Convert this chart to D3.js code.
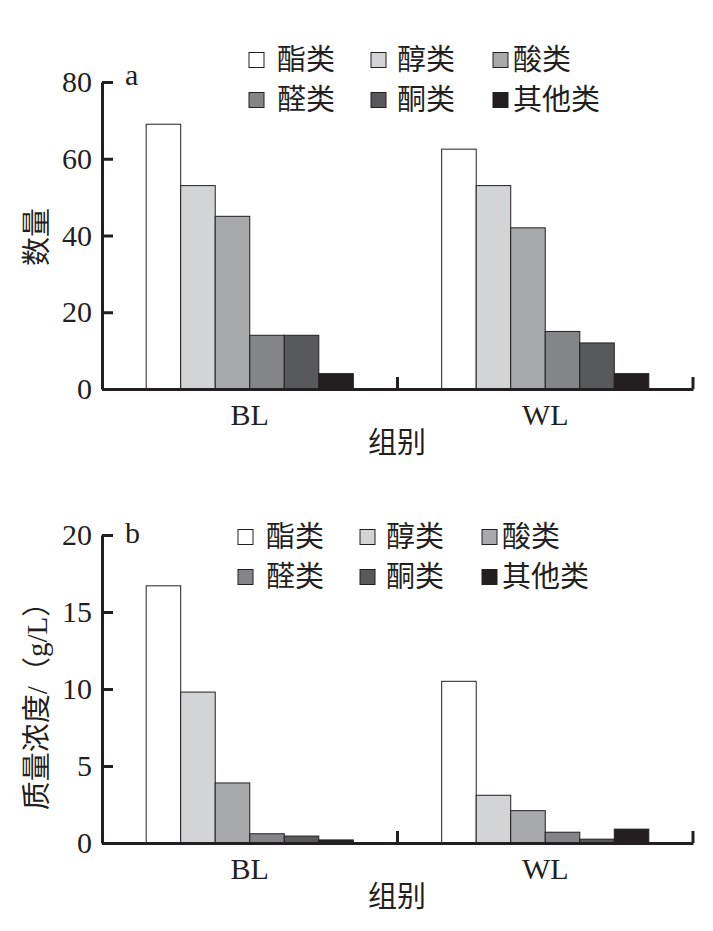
<!DOCTYPE html>
<html>
<head>
<meta charset="utf-8">
<script src="https://cdn.jsdelivr.net/npm/d3@7"></script>
<style>
  body { margin: 0; background: #fff; }
  svg text { font-family: "Liberation Serif", "Noto Sans CJK SC", serif; fill: #231f20; }
</style>
</head>
<body>
<svg id="chart"></svg>
<script>
// data
const groups = ["BL", "WL"];
const classes = ["酯类", "醇类", "酸类", "醛类", "酮类", "其他类"];
const colors = ["#ffffff", "#d3d4d6", "#a8a9ab", "#848587", "#58595b", "#231f20"];

const countBL = [69, 53, 45, 14, 14, 4];
const countWL = [62.5, 53, 42, 15, 12, 4];
const countTicks = [0, 20, 40, 60, 80];

const concBL = [16.7, 9.8, 3.9, 0.6, 0.45, 0.2];
const concWL = [10.5, 3.1, 2.1, 0.7, 0.25, 0.9];
const concTicks = [0, 5, 10, 15, 20];

const svg = d3.select("#chart").attr("width", 713).attr("height", 931);
const ink = "#231f20";

function panel(cfg) {
    let self = {};
    self.x = d3.scaleBand().domain(groups).range([102, 693]);
    self.inner = d3.scaleBand().domain(classes)
        .range([0, self.x.bandwidth()])
        .paddingOuter(1.28);
    self.y = d3.scaleLinear().domain([0, cfg.max]).range([cfg.bottom, cfg.top]);

    let rows = [];
    groups.forEach((g, gi) => {
        classes.forEach((c, ci) => {
            rows.push({ g: g, c: c, v: cfg.values[gi][ci], fill: colors[ci] });
        });
    });

    let g = svg.append("g");

    g.selectAll("rect.bar")
        .data(rows)
        .join("rect")
        .attr("class", "bar")
        .attr("x", d => self.x(d.g) + self.inner(d.c))
        .attr("y", d => self.y(d.v))
        .attr("width", self.inner.bandwidth())
        .attr("height", d => self.y(0) - self.y(d.v))
        .attr("fill", d => d.fill)
        .attr("stroke", ink)
        .attr("stroke-width", 1);

    // y axis, ticks inward
    let yaxis = d3.axisLeft(self.y)
        .tickValues(cfg.ticks)
        .tickSizeInner(-11)
        .tickSizeOuter(0)
        .tickPadding(10);
    let yg = g.append("g").attr("transform", "translate(102,0)").call(yaxis);
    yg.selectAll("text").attr("font-size", 30).attr("fill", ink)
        .style("font-family", "'Liberation Serif', serif");
    yg.selectAll("line, path").attr("stroke", ink).attr("stroke-width", 3);

    // x axis
    let xaxis = d3.axisBottom(self.x).tickSize(0).tickPadding(15);
    let xg = g.append("g").attr("transform", `translate(0,${cfg.bottom})`).call(xaxis);
    xg.selectAll("text").attr("font-size", 30).attr("fill", ink)
        .style("font-family", "'Liberation Serif', serif");
    xg.select("path").attr("stroke", ink).attr("stroke-width", 3);

    // boundary ticks between groups, pointing up
    g.selectAll("line.bound")
        .data(groups)
        .join("line")
        .attr("class", "bound")
        .attr("x1", d => self.x(d) + self.x.bandwidth())
        .attr("x2", d => self.x(d) + self.x.bandwidth())
        .attr("y1", cfg.bottom)
        .attr("y2", cfg.bottom - 12)
        .attr("stroke", ink)
        .attr("stroke-width", 3);

    // panel letter
    g.append("text")
        .text(cfg.letter)
        .attr("x", 125)
        .attr("y", cfg.top + cfg.letterDy)
        .attr("font-size", 30);

    // x title
    g.append("text")
        .text("组别")
        .attr("x", 397)
        .attr("y", cfg.bottom + 64)
        .attr("text-anchor", "middle")
        .attr("font-size", 29)
        .style("font-family", "'Noto Sans CJK SC', sans-serif");

    // y title
    g.append("text")
        .text(cfg.ytitle)
        .attr("transform", `translate(47,${cfg.ymid}) rotate(-90)`)
        .attr("text-anchor", "middle")
        .attr("font-size", 29);

    // legend
    let colX = [0, 122, 244];
    let textGap = [28, 26, 20];
    let leg = g.append("g").attr("transform", `translate(${cfg.legX},${cfg.legY})`);
    let items = leg.selectAll("g")
        .data(classes)
        .join("g")
        .attr("transform", (d, i) => `translate(${colX[i % 3]},${Math.floor(i / 3) * cfg.legRow})`);
    items.append("rect")
        .attr("x", 0).attr("y", -7.5)
        .attr("width", 15).attr("height", 15)
        .attr("fill", (d, i) => colors[i])
        .attr("stroke", ink)
        .attr("stroke-width", 1);
    items.append("text")
        .text(d => d)
        .attr("x", (d, i) => textGap[i % 3])
        .attr("dy", "0.36em")
        .attr("font-size", 29)
        .style("font-family", "'Noto Sans CJK SC', sans-serif");

    return self;
}

panel({
    values: [countBL, countWL], max: 80, ticks: countTicks,
    top: 82, bottom: 389, letter: "a", letterDy: 3,
    ytitle: "数量", ymid: 237,
    legX: 249, legY: 60, legRow: 40
});

panel({
    values: [concBL, concWL], max: 20, ticks: concTicks,
    top: 535, bottom: 843, letter: "b", letterDy: 8,
    ytitle: "质量浓度/（g/L）", ymid: 699,
    legX: 238, legY: 537, legRow: 40
});
</script>
</body>
</html>
